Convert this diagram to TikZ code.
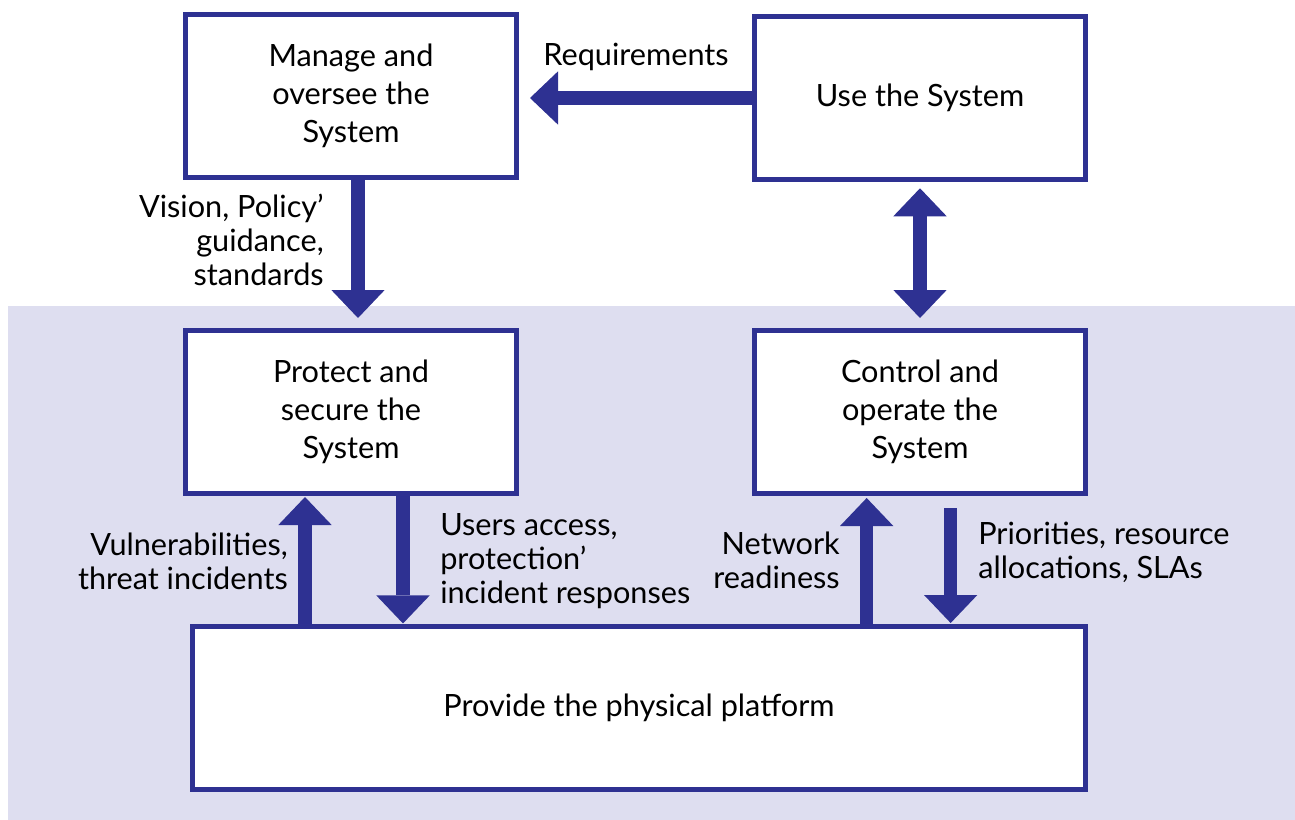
\documentclass[tikz,border=0pt]{standalone}
\usepackage{fontspec}
\setmainfont{Lato}
\usetikzlibrary{positioning,arrows.meta}
\definecolor{navy}{RGB}{46,49,146}
\definecolor{lav}{RGB}{222,222,240}

\begin{document}
\begin{tikzpicture}[x=0.75pt, y=-0.75pt,
  box/.style={rectangle, draw=navy, fill=white, line width=3.75pt, minimum width=248.25pt, minimum height=122.25pt, align=center, font=\fontsize{23}{28.5}\selectfont},
  bigarrow/.style={draw=navy, line width=10pt, -{Triangle[width=40pt, length=21pt, line width=0pt]}},
  dblarrow/.style={draw=navy, line width=10pt, {Triangle[width=40pt, length=21pt, line width=0pt]}-{Triangle[width=40pt, length=21pt, line width=0pt]}},
  lbl/.style={inner sep=0pt, font=\fontsize{23}{25.5}\selectfont}]
\useasboundingbox (0,0) rectangle (1295,820);
\fill[lav] (8,306) rectangle (1295,820);
% boxes
\node (manage) [box] at (351,96) {Manage and\\oversee the\\System};
\node (use) [box] at (920,98) {Use the System};
\node (protect) [box] at (351,412) {Protect and\\secure the\\System};
\node (control) [box] at (920,412) {Control and\\operate the\\System};
\node (provide) [box, minimum width=669.75pt] at (639,708) {Provide the physical platform};
% arrows
\draw [bigarrow, shorten >=8.25pt] (use.west) -- (use.west -| manage.east);
\draw [bigarrow, shorten >=7.5pt] ([xshift=5.25pt]manage.south) -- ([xshift=5.25pt]protect.north);
\draw [dblarrow, shorten <=4.7pt, shorten >=7.5pt] (use.south) -- (control.north);
\coordinate (vul) at ([xshift=-34.5pt]protect.south);
\coordinate (usr) at ([xshift=39pt]protect.south);
\coordinate (net) at ([xshift=-40pt]control.south);
\coordinate (pri) at ([xshift=23pt]control.south);
\draw [bigarrow, shorten >=0.75pt] (vul |- provide.north) -- (vul);
\draw [bigarrow, shorten >=0.4pt] (usr) -- (usr |- provide.north);
\draw [bigarrow, shorten >=1.5pt] (net |- provide.north) -- (net);
\draw [bigarrow, shorten <=9pt, shorten >=0.75pt] (pri) -- (pri |- provide.north);
% labels
\node (req) [lbl] at (636,57) {Requirements};
\node (vis) [lbl, align=right, anchor=east] at (324,240) {Vision, Policy’\\guidance,\\standards};
\node (vln) [lbl, align=right, anchor=east] at (288,561) {Vulnerabilities,\\threat incidents};
\node (acc) [lbl, align=left, anchor=west] at (440,561) {Users access,\\protection’\\incident responses};
\node (rdy) [lbl, align=right, anchor=east] at (840,560) {Network\\readiness};
\node (prio) [lbl, align=left, anchor=west] at (978,552) {Priorities, resource\\allocations, SLAs};
\end{tikzpicture}
\end{document}
